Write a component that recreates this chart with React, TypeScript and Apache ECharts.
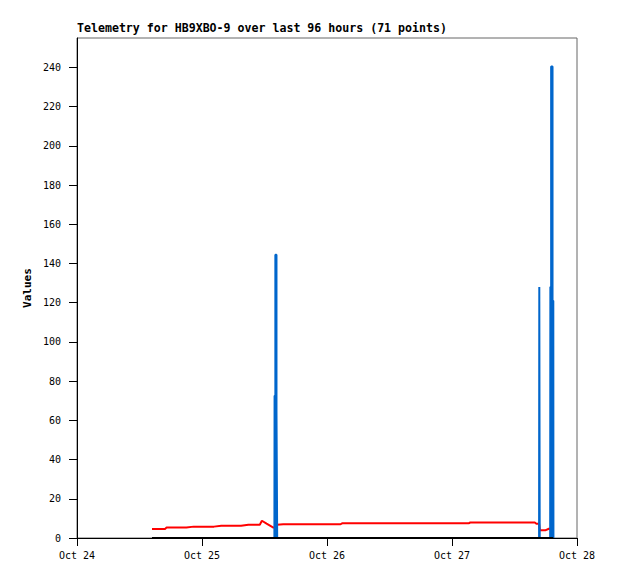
import React, { useEffect, useRef } from "react";
import * as echarts from "echarts";

// hours since Oct 24 00:00
const hours = [
  14.4, 15.6, 16.9, 17.2, 18.4, 19.7, 21.0, 22.4, 23.6, 24.9, 26.3, 27.7, 29.0, 30.3, 31.5, 32.9, 34.1, 35.1,
  35.5, 36.4, 37.7,
  37.9, 37.97, 38.2, 38.4, 38.47,
  39.6, 41.4, 43.1, 44.8, 46.6, 48.4, 50.6,
  50.9, 52.5, 54.1, 55.8, 57.5, 59.2, 60.9, 62.6, 64.3, 66.0, 67.7, 69.4, 71.1, 72.9, 75.2,
  75.5, 77.1, 78.8, 80.4, 82.0, 83.7, 85.3, 86.7, 87.9, 88.2,
  88.72, 88.8, 88.88,
  89.9, 90.6,
  90.85, 90.92, 91.15, 91.45, 91.5,
];

const redValues = [
  4.6, 4.6, 4.6, 5.3, 5.3, 5.3, 5.3, 5.8, 5.8, 5.8, 5.8, 6.3, 6.3, 6.3, 6.3, 6.8, 6.8, 6.8,
  8.8, 7.3, 5.3,
  5.3, 5.4, 6.0, 6.8, 6.8,
  7.0, 7.0, 7.0, 7.0, 7.0, 7.0, 7.0,
  7.5, 7.5, 7.5, 7.5, 7.5, 7.5, 7.5, 7.5, 7.5, 7.5, 7.5, 7.5, 7.5, 7.5, 7.5,
  7.9, 7.9, 7.9, 7.9, 7.9, 7.9, 7.9, 7.9, 7.9, 7.3,
  7.3, 5.6, 3.9,
  3.9, 4.7,
  4.7, 4.7, 4.7, 4.7, 4.7,
];

const blueValues = [
  0, 0, 0, 0, 0, 0, 0, 0, 0, 0, 0, 0, 0, 0, 0, 0, 0, 0,
  0, 0, 0,
  0, 72.5, 144.5, 64.5, 0,
  0, 0, 0, 0, 0, 0, 0,
  0, 0, 0, 0, 0, 0, 0, 0, 0, 0, 0, 0, 0, 0, 0,
  0, 0, 0, 0, 0, 0, 0, 0, 0, 0,
  0, 128, 0,
  0, 0,
  0, 128, 240.5, 121, 0,
];

const blackValues = hours.map(() => 0);

const xTickLabels = ["Oct 24", "Oct 25", "Oct 26", "Oct 27", "Oct 28"];
const yTicks = [0, 20, 40, 60, 80, 100, 120, 140, 160, 180, 200, 220, 240];

const MONO = "'DejaVu Sans Mono', 'Liberation Mono', monospace";

export default function App() {
  const ref = useRef<HTMLDivElement>(null);
  useEffect(() => {
    if (!ref.current) return;
    const chart = echarts.init(ref.current, null, { renderer: "svg" });
    const pairs = (vals: number[]) => hours.map((h, i) => [h, vals[i]]);
    chart.setOption({
      animation: false,
      backgroundColor: "#ffffff",
      title: {
        text: "Telemetry for HB9XBO-9 over last 96 hours (71 points)",
        left: 77,
        top: 22,
        padding: 0,
        textStyle: { fontFamily: MONO, fontSize: 11.6, fontWeight: "bold", color: "#000" },
      },
      grid: {
        left: 77,
        top: 38,
        width: 500,
        height: 500,
        show: true,
        borderColor: "#666",
        borderWidth: 1,
        containLabel: false,
      },
      xAxis: {
        type: "value",
        min: 0,
        max: 96,
        interval: 24,
        splitLine: { show: false },
        axisLine: { lineStyle: { color: "#000", width: 1 } },
        axisTick: { show: true, length: 8, lineStyle: { color: "#000" } },
        axisLabel: {
          margin: 12,
          fontFamily: MONO,
          fontSize: 10,
          color: "#000",
          formatter: (v: number) => xTickLabels[Math.round(v / 24)] ?? "",
        },
      },
      yAxis: {
        type: "value",
        min: 0,
        max: 255,
        interval: 20,
        name: "Values",
        nameLocation: "middle",
        nameGap: 44,
        nameMoveOverlap: false,
        nameTextStyle: { fontFamily: MONO, fontSize: 11, fontWeight: "bold", color: "#000" },
        splitLine: { show: false },
        axisLine: { show: true, lineStyle: { color: "#000", width: 1 } },
        axisTick: { show: true, length: 8, lineStyle: { color: "#000" }, customValues: yTicks },
        axisLabel: {
          margin: 16,
          fontFamily: MONO,
          fontSize: 10,
          color: "#000",
          customValues: yTicks,
        },
      },
      series: [
        {
          type: "line",
          data: pairs(redValues),
          showSymbol: false,
          lineStyle: { color: "#ff0000", width: 2 },
          z: 2,
        },
        {
          type: "line",
          data: pairs(blueValues),
          showSymbol: false,
          step: "middle",
          lineStyle: { color: "#0066cc", width: 2 },
          areaStyle: { color: "#0066cc", opacity: 1 },
          z: 3,
        },
        {
          type: "line",
          data: pairs(blackValues),
          showSymbol: false,
          lineStyle: { color: "#000000", width: 2 },
          z: 4,
        },
      ],
    });
    return () => chart.dispose();
  }, []);
  return (
    <div
      ref={ref}
      style={{ position: "fixed", left: 0, top: 0, width: 618, height: 579, background: "#fff" }}
    />
  );
}
